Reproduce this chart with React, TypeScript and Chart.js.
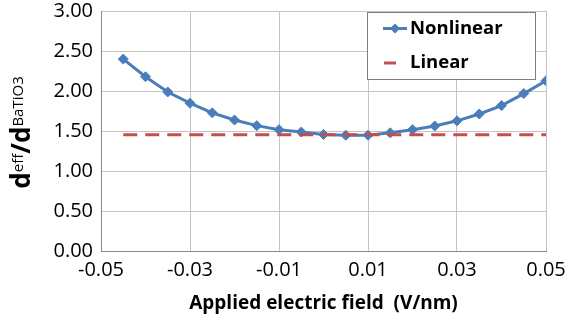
import React, { useEffect, useRef } from 'react';
import { Chart, registerables } from 'chart.js';

Chart.register(...registerables);

const X_VALUES = [-0.045, -0.04, -0.035, -0.03, -0.025, -0.02, -0.015, -0.01, -0.005, 0, 0.005, 0.01, 0.015, 0.02, 0.025, 0.03, 0.035, 0.04, 0.045, 0.05];
const NONLINEAR = [2.40, 2.18, 1.99, 1.85, 1.73, 1.64, 1.57, 1.52, 1.49, 1.46, 1.45, 1.45, 1.48, 1.52, 1.565, 1.63, 1.715, 1.82, 1.97, 2.13];
const LINEAR = [1.455, 1.455, 1.455, 1.455, 1.455, 1.455, 1.455, 1.455, 1.455, 1.455, 1.455, 1.455, 1.455, 1.455, 1.455, 1.455, 1.455, 1.455, 1.455, 1.455];
const X_TICKS = [-0.05, -0.03, -0.01, 0.01, 0.03, 0.05];
const Y_TICKS = [0, 0.5, 1.0, 1.5, 2.0, 2.5, 3.0];
const SERIES_NAMES = ['Nonlinear', 'Linear'];
const X_TITLE = 'Applied electric field  (V/nm)';
const Y_TITLE_PARTS = [
  { text: 'd', sup: false },
  { text: 'eff', sup: true },
  { text: '/', sup: false },
  { text: 'd', sup: false },
  { text: 'BaTiO3', sup: true },
];

const BLUE = '#4A7EBB';
const RED = '#C0504D';
const FONT = "'Open Sans', sans-serif";

const overlayPlugin = {
  id: 'overlay',
  afterDraw(chart: any) {
    const ctx = chart.ctx as CanvasRenderingContext2D;
    // legend box
    ctx.save();
    ctx.fillStyle = '#ffffff';
    ctx.fillRect(367.5, 12.5, 168, 67);
    ctx.strokeStyle = '#7f7f7f';
    ctx.lineWidth = 1;
    ctx.strokeRect(367.5, 12.5, 168, 67);
    // item 1
    ctx.strokeStyle = BLUE;
    ctx.lineWidth = 3;
    ctx.beginPath();
    ctx.moveTo(383, 28.5);
    ctx.lineTo(407, 28.5);
    ctx.stroke();
    ctx.fillStyle = BLUE;
    ctx.beginPath();
    ctx.moveTo(395, 23.5);
    ctx.lineTo(400, 28.5);
    ctx.lineTo(395, 33.5);
    ctx.lineTo(390, 28.5);
    ctx.closePath();
    ctx.fill();
    // item 2
    ctx.strokeStyle = RED;
    ctx.lineWidth = 3;
    ctx.beginPath();
    ctx.moveTo(384, 63);
    ctx.lineTo(396, 63);
    ctx.stroke();
    ctx.fillStyle = '#000000';
    ctx.font = `bold 18.5px ${FONT}`;
    ctx.textBaseline = 'middle';
    ctx.textAlign = 'left';
    ctx.fillText(chart.data.datasets[0].label, 410, 29);
    ctx.fillText(chart.data.datasets[1].label, 410, 63);
    ctx.restore();

    // y axis title with superscripts
    ctx.save();
    const bigFont = `bold 26px ${FONT}`;
    const supFont = `15px ${FONT}`;
    let total = 0;
    const widths: number[] = [];
    for (const p of Y_TITLE_PARTS) {
      ctx.font = p.sup ? supFont : bigFont;
      const w = ctx.measureText(p.text).width;
      widths.push(w);
      total += w;
    }
    ctx.translate(29.5, 132.5);
    ctx.rotate(-Math.PI / 2);
    ctx.fillStyle = '#000000';
    ctx.textBaseline = 'alphabetic';
    ctx.textAlign = 'left';
    let x = -total / 2;
    Y_TITLE_PARTS.forEach((p, i) => {
      ctx.font = p.sup ? supFont : bigFont;
      ctx.fillText(p.text, x, p.sup ? -7 : 0);
      x += widths[i];
    });
    ctx.restore();
  },
};

export default function App() {
  const ref = useRef<HTMLCanvasElement>(null);
  useEffect(() => {
    if (!ref.current) return;
    const chart = new Chart(ref.current, {
      type: 'line',
      data: {
        datasets: [
          {
            label: SERIES_NAMES[0],
            data: X_VALUES.map((x, i) => ({ x, y: NONLINEAR[i] })),
            borderColor: BLUE,
            backgroundColor: BLUE,
            borderWidth: 3,
            pointStyle: 'rectRot',
            pointRadius: 5,
            pointBorderWidth: 1,
            pointBackgroundColor: BLUE,
            pointBorderColor: BLUE,
            tension: 0,
            order: 1,
          },
          {
            label: SERIES_NAMES[1],
            data: X_VALUES.map((x, i) => ({ x, y: LINEAR[i] })),
            borderColor: RED,
            backgroundColor: RED,
            borderWidth: 3,
            borderDash: [14, 8],
            borderCapStyle: 'butt',
            pointRadius: 0,
            tension: 0,
            order: 0,
          },
        ],
      },
      options: {
        animation: false,
        responsive: false,
        maintainAspectRatio: false,
        layout: { padding: { left: 0, right: 21, top: 11, bottom: 0 } },
        plugins: {
          legend: { display: false },
          tooltip: { enabled: false },
        },
        scales: {
          x: {
            type: 'linear',
            min: -0.05,
            max: 0.05,
            afterBuildTicks: (scale: any) => {
              scale.ticks = X_TICKS.map((v) => ({ value: v }));
            },
            afterFit: (scale: any) => {
              scale.height = 72.5;
              scale.paddingLeft = 0;
              scale.paddingRight = 0;
            },
            grid: { color: '#c4c4c4', lineWidth: 1, drawTicks: false },
            border: { color: '#888888', width: 1 },
            ticks: {
              padding: 7,
              color: '#000000',
              font: { family: FONT, size: 20 },
              maxRotation: 0,
              autoSkip: false,
              callback: (v: any) => Number(v).toFixed(2),
            },
            title: {
              display: true,
              text: X_TITLE,
              color: '#000000',
              font: { family: FONT, size: 19, weight: 'bold' },
              padding: { top: 0, bottom: 9 },
            },
          },
          y: {
            type: 'linear',
            min: 0,
            max: 3,
            afterBuildTicks: (scale: any) => {
              scale.ticks = Y_TICKS.map((v) => ({ value: v }));
            },
            afterFit: (scale: any) => {
              scale.width = 101;
              scale.paddingTop = 0;
              scale.paddingBottom = 0;
            },
            grid: { color: '#c4c4c4', lineWidth: 1, drawTicks: false },
            border: { color: '#888888', width: 1 },
            ticks: {
              padding: 8,
              color: '#000000',
              font: { family: FONT, size: 20 },
              autoSkip: false,
              callback: (v: any) => Number(v).toFixed(2),
            },
          },
        },
      },
      plugins: [overlayPlugin],
    } as any);
    return () => chart.destroy();
  }, []);
  return (
    <div style={{ position: 'fixed', left: 0, top: 0, width: 567, height: 324, background: '#ffffff' }}>
      <canvas ref={ref} width={567} height={324} style={{ display: 'block' }} />
    </div>
  );
}
